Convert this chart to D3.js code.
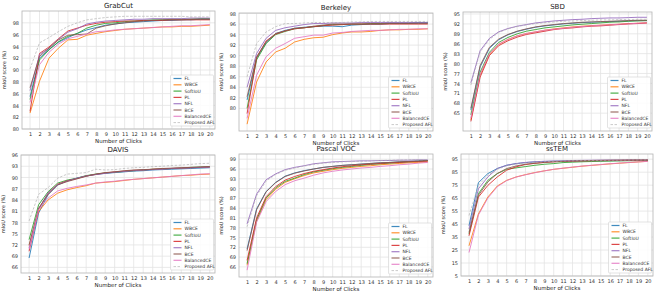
<!DOCTYPE html>
<html>
<head>
<meta charset="utf-8">
<title>mIoU vs clicks</title>
<style>
  body { margin: 0; background: #fff; }
  svg { display: block; font-family: "DejaVu Sans", sans-serif; }
  .grid line { stroke: #e3e3e3; stroke-width: 0.8; }
  .tick text { fill: #333; }
</style>
</head>
<body>
<svg width="664" height="291"></svg>
<script src="https://cdn.jsdelivr.net/npm/d3@7"></script>
<script>
// number of clicks on the x axis
var clicks = [1, 2, 3, 4, 5, 6, 7, 8, 9, 10, 11, 12, 13, 14, 15, 16, 17, 18, 19, 20];

var methods = ["FL", "WBCE", "SoftIoU", "PL", "NFL", "BCE", "BalancedCE", "Proposed AFL"];
var colors = ["#1f77b4", "#ff7f0e", "#2ca02c", "#d62728", "#9467bd", "#8c564b", "#e377c2", "#b0b0b0"];

// mIoU score (%) per method
var grabcut = {
  "FL":           [85.5, 92.0, 93.5, 94.7, 95.5, 96.2, 96.8, 97.2, 97.6, 97.8, 98.0, 98.1, 98.2, 98.3, 98.4, 98.4, 98.5, 98.5, 98.6, 98.6],
  "WBCE":         [82.7, 88.1, 92.0, 93.7, 95.1, 95.2, 95.9, 96.2, 96.5, 96.7, 96.9, 97.0, 97.1, 97.2, 97.3, 97.3, 97.4, 97.4, 97.5, 97.6],
  "SoftIoU":      [85.0, 91.7, 93.4, 94.8, 95.7, 96.2, 97.1, 97.6, 97.9, 98.0, 98.2, 98.3, 98.4, 98.5, 98.5, 98.6, 98.6, 98.6, 98.7, 98.7],
  "PL":           [83.0, 92.8, 93.9, 95.3, 96.6, 97.1, 97.6, 97.9, 98.1, 98.2, 98.3, 98.3, 98.4, 98.4, 98.4, 98.5, 98.5, 98.5, 98.5, 98.5],
  "NFL":          [86.5, 92.6, 93.7, 95.2, 96.4, 97.0, 97.8, 98.1, 98.3, 98.4, 98.5, 98.6, 98.6, 98.7, 98.7, 98.7, 98.7, 98.8, 98.8, 98.8],
  "BCE":          [87.0, 92.3, 93.7, 95.1, 95.9, 96.0, 96.1, 97.1, 97.5, 97.8, 98.0, 98.2, 98.3, 98.4, 98.5, 98.5, 98.5, 98.6, 98.6, 98.6],
  "BalancedCE":   [84.5, 90.9, 93.0, 94.4, 95.3, 95.7, 96.1, 96.5, 96.6, 96.8, 96.9, 97.0, 97.1, 97.2, 97.3, 97.4, 97.5, 97.5, 97.6, 97.7],
  "Proposed AFL": [90.2, 94.6, 95.5, 96.5, 97.4, 98.0, 98.5, 98.7, 98.9, 99.0, 99.1, 99.1, 99.1, 99.1, 99.1, 99.1, 99.1, 99.0, 99.0, 99.0]
};
var berkeley = {
  "FL":           [81.6, 89.5, 92.5, 94.2, 94.8, 95.2, 95.4, 95.5, 95.6, 95.6, 95.5, 95.8, 95.9, 96.0, 96.0, 96.1, 96.1, 96.1, 96.2, 96.2],
  "WBCE":         [77.0, 85.0, 88.8, 90.7, 91.4, 92.6, 93.1, 93.4, 93.5, 94.0, 94.3, 94.5, 94.5, 94.6, 94.8, 94.9, 94.9, 95.0, 95.0, 95.1],
  "SoftIoU":      [80.0, 89.2, 92.3, 94.0, 94.6, 95.1, 95.3, 95.5, 95.7, 95.9, 95.9, 96.0, 96.0, 96.1, 96.1, 96.2, 96.2, 96.2, 96.3, 96.3],
  "PL":           [79.0, 89.6, 92.8, 94.1, 94.7, 95.1, 95.3, 95.5, 95.7, 95.8, 95.9, 96.0, 96.0, 96.0, 96.0, 96.0, 96.0, 96.0, 96.0, 96.0],
  "NFL":          [84.0, 90.4, 93.3, 94.8, 95.3, 95.6, 95.9, 96.1, 96.1, 96.2, 96.2, 96.2, 96.3, 96.3, 96.3, 96.3, 96.3, 96.3, 96.3, 96.3],
  "BCE":          [82.2, 89.8, 92.6, 94.2, 94.7, 95.2, 95.3, 95.6, 95.8, 96.0, 96.0, 96.0, 96.0, 96.0, 96.0, 96.1, 96.1, 96.1, 96.1, 96.1],
  "BalancedCE":   [78.1, 86.3, 89.8, 91.4, 92.3, 93.3, 93.6, 93.9, 93.9, 94.3, 94.4, 94.6, 94.7, 94.8, 94.8, 94.9, 95.0, 95.0, 95.1, 95.1],
  "Proposed AFL": [86.0, 92.3, 94.5, 95.5, 96.1, 96.1, 96.2, 96.3, 96.3, 96.3, 96.3, 96.4, 96.4, 96.5, 96.5, 96.5, 96.5, 96.5, 96.5, 96.5]
};
var sbd = {
  "FL":           [66.0, 79.0, 84.6, 87.2, 88.7, 89.7, 90.4, 91.0, 91.4, 91.7, 92.0, 92.2, 92.4, 92.5, 92.6, 92.7, 92.8, 92.9, 93.0, 93.0],
  "WBCE":         [63.0, 76.5, 82.8, 85.8, 87.3, 88.4, 89.1, 89.6, 90.1, 90.5, 90.8, 91.1, 91.3, 91.5, 91.6, 91.8, 91.9, 92.1, 92.2, 92.3],
  "SoftIoU":      [64.5, 77.4, 83.4, 86.4, 87.9, 89.0, 89.8, 90.3, 90.8, 91.1, 91.4, 91.7, 91.9, 92.1, 92.3, 92.5, 92.6, 92.8, 92.9, 93.0],
  "PL":           [62.5, 75.9, 82.4, 85.4, 86.9, 88.0, 88.8, 89.3, 89.8, 90.3, 90.6, 90.8, 91.1, 91.3, 91.4, 91.6, 91.8, 92.0, 92.1, 92.3],
  "NFL":          [74.2, 83.9, 87.6, 89.6, 90.6, 91.3, 91.8, 92.3, 92.6, 92.9, 93.1, 93.3, 93.4, 93.6, 93.7, 93.8, 93.8, 93.9, 94.0, 94.0],
  "BCE":          [66.5, 79.4, 84.9, 87.4, 88.8, 89.8, 90.5, 91.1, 91.5, 91.8, 92.1, 92.3, 92.5, 92.6, 92.7, 92.8, 92.9, 93.0, 93.1, 93.1],
  "BalancedCE":   [63.5, 76.8, 83.0, 85.9, 87.3, 88.4, 89.1, 89.6, 90.1, 90.4, 90.7, 91.0, 91.2, 91.4, 91.6, 91.7, 91.9, 92.0, 92.2, 92.3],
  "Proposed AFL": [73.5, 83.5, 87.3, 89.4, 90.5, 91.2, 91.7, 92.1, 92.4, 92.6, 92.8, 92.9, 93.0, 93.1, 93.2, 93.2, 93.3, 93.3, 93.4, 93.4]
};
var davis = {
  "FL":           [68.5, 80.5, 85.4, 88.0, 89.1, 89.8, 90.4, 90.8, 91.1, 91.3, 91.5, 91.7, 91.8, 92.0, 92.1, 92.2, 92.3, 92.4, 92.5, 92.6],
  "WBCE":         [71.8, 80.9, 84.0, 85.8, 86.7, 87.3, 87.8, 88.5, 88.7, 88.9, 89.2, 89.5, 89.7, 89.9, 90.1, 90.3, 90.5, 90.6, 90.8, 90.9],
  "SoftIoU":      [73.4, 82.7, 86.2, 88.5, 89.3, 89.8, 90.5, 90.9, 91.2, 91.4, 91.6, 91.8, 92.0, 92.2, 92.3, 92.4, 92.5, 92.7, 92.8, 92.9],
  "PL":           [70.3, 81.4, 85.8, 88.2, 89.1, 89.7, 90.4, 90.8, 91.2, 91.5, 91.7, 91.9, 92.0, 92.2, 92.3, 92.4, 92.5, 92.6, 92.7, 92.8],
  "NFL":          [71.2, 81.6, 85.9, 88.1, 89.0, 89.8, 90.4, 90.8, 91.1, 91.4, 91.6, 91.8, 92.0, 92.1, 92.2, 92.4, 92.5, 92.6, 92.7, 92.8],
  "BCE":          [72.0, 81.8, 85.5, 88.0, 88.9, 89.6, 90.3, 90.9, 91.3, 91.5, 91.8, 92.0, 92.1, 92.2, 92.4, 92.5, 92.6, 92.7, 92.8, 92.9],
  "BalancedCE":   [70.8, 81.4, 84.5, 86.4, 87.1, 87.6, 88.0, 88.5, 88.8, 89.0, 89.3, 89.5, 89.7, 89.9, 90.1, 90.3, 90.5, 90.7, 90.9, 91.0],
  "Proposed AFL": [78.4, 85.5, 87.3, 89.8, 90.9, 91.1, 91.3, 92.2, 92.0, 92.1, 92.4, 92.6, 92.7, 92.9, 93.0, 93.2, 93.3, 93.5, 93.7, 93.8]
};
var voc = {
  "FL":           [71.5, 83.8, 89.1, 91.9, 93.8, 94.8, 95.5, 96.0, 96.5, 96.8, 97.1, 97.3, 97.5, 97.7, 97.9, 98.0, 98.2, 98.3, 98.5, 98.6],
  "WBCE":         [66.5, 80.0, 86.6, 89.8, 91.9, 93.0, 94.0, 94.8, 95.3, 95.8, 96.2, 96.5, 96.8, 97.0, 97.3, 97.5, 97.7, 97.9, 98.0, 98.2],
  "SoftIoU":      [67.0, 80.4, 87.1, 90.2, 92.2, 93.2, 94.3, 95.1, 95.6, 96.1, 96.5, 96.8, 97.1, 97.4, 97.6, 97.8, 98.0, 98.2, 98.4, 98.6],
  "PL":           [68.0, 81.0, 87.5, 90.6, 92.6, 93.7, 94.6, 95.3, 95.8, 96.3, 96.7, 97.0, 97.3, 97.5, 97.7, 97.9, 98.0, 98.2, 98.3, 98.4],
  "NFL":          [79.2, 88.3, 92.7, 94.5, 95.8, 96.5, 97.0, 97.6, 97.9, 98.2, 98.3, 98.4, 98.5, 98.5, 98.6, 98.6, 98.7, 98.7, 98.8, 98.8],
  "BCE":          [71.0, 83.5, 89.0, 91.8, 93.7, 94.7, 95.4, 96.0, 96.5, 96.8, 97.1, 97.3, 97.5, 97.7, 97.9, 98.0, 98.2, 98.3, 98.4, 98.6],
  "BalancedCE":   [65.0, 79.7, 86.0, 89.1, 91.2, 92.4, 93.2, 94.1, 94.8, 95.3, 95.7, 96.0, 96.3, 96.5, 96.8, 97.0, 97.3, 97.5, 97.8, 98.0],
  "Proposed AFL": [78.3, 87.8, 92.3, 94.3, 95.6, 96.3, 96.9, 97.4, 97.8, 98.0, 98.2, 98.3, 98.4, 98.5, 98.6, 98.7, 98.7, 98.8, 98.8, 98.9]
};
var sstem = {
  "FL":           [43.8, 76.9, 83.9, 87.8, 90.3, 91.6, 92.4, 92.9, 93.2, 93.4, 93.5, 93.6, 93.7, 93.8, 93.8, 93.9, 93.9, 94.0, 94.0, 94.0],
  "WBCE":         [28.3, 52.8, 65.8, 74.3, 78.7, 81.3, 83.1, 84.7, 86.0, 87.2, 88.0, 88.8, 89.6, 90.2, 90.8, 91.4, 91.9, 92.4, 92.9, 93.4],
  "SoftIoU":      [37.3, 68.4, 78.7, 83.9, 87.2, 88.3, 89.3, 90.3, 91.1, 91.6, 92.4, 92.7, 93.0, 93.2, 93.4, 93.5, 93.7, 93.8, 93.9, 94.0],
  "PL":           [36.0, 65.8, 74.8, 81.3, 86.5, 89.1, 90.9, 91.8, 92.5, 93.0, 93.3, 93.5, 93.7, 93.8, 93.9, 94.0, 94.1, 94.2, 94.2, 94.3],
  "NFL":          [41.2, 72.2, 81.3, 87.8, 90.3, 91.6, 92.5, 93.0, 93.4, 93.6, 93.8, 94.0, 94.1, 94.2, 94.3, 94.4, 94.4, 94.5, 94.5, 94.5],
  "BCE":          [38.6, 67.1, 77.4, 83.9, 87.8, 89.8, 91.1, 91.9, 92.5, 93.0, 93.3, 93.6, 93.8, 94.0, 94.1, 94.2, 94.3, 94.4, 94.5, 94.5],
  "BalancedCE":   [23.1, 52.0, 65.0, 73.8, 78.5, 81.2, 83.0, 84.6, 86.0, 87.2, 88.1, 88.9, 89.7, 90.3, 90.9, 91.5, 92.0, 92.5, 92.9, 93.3],
  "Proposed AFL": [51.6, 74.8, 82.6, 87.2, 89.8, 91.2, 92.1, 92.7, 93.1, 93.4, 93.6, 93.8, 93.9, 94.0, 94.1, 94.2, 94.3, 94.4, 94.4, 94.5]
};

// y tick labels per panel
var ticksGrabcut  = [80, 82, 84, 86, 88, 90, 92, 94, 96, 98];
var ticksBerkeley = [80, 82, 84, 86, 88, 90, 92, 94, 96, 98];
var ticksSbd      = [65, 68, 71, 74, 77, 80, 83, 86, 89, 92, 95];
var ticksDavis    = [66, 69, 72, 75, 78, 81, 84, 87, 90, 93, 96];
var ticksVoc      = [66, 69, 72, 75, 78, 81, 84, 87, 90, 93, 96, 99];
var ticksSstem    = [5, 15, 25, 35, 45, 55, 65, 75, 85, 95];

var panels = [
  {title: "GrabCut",    data: grabcut,  ticks: ticksGrabcut,  ylim: [80, 100],    box: [22, 11, 215, 129]},
  {title: "Berkeley",   data: berkeley, ticks: ticksBerkeley, ylim: [75.7, 98.1], box: [239, 13, 433, 131]},
  {title: "SBD",        data: sbd,      ticks: ticksSbd,      ylim: [59.6, 95.6], box: [463, 12, 652, 131]},
  {title: "DAVIS",      data: davis,    ticks: ticksDavis,    ylim: [64.5, 96],   box: [21, 155, 215, 273]},
  {title: "Pascal VOC", data: voc,      ticks: ticksVoc,      ylim: [62.9, 100.6], box: [239, 154, 433, 277]},
  {title: "ssTEM",      data: sstem,    ticks: ticksSstem,    ylim: [5, 99],      box: [461, 154, 653, 276]}
];

var svg = d3.select("svg");

panels.forEach(function(p) {
  var L = p.box[0], T = p.box[1], R = p.box[2], B = p.box[3];
  var x = d3.scaleLinear().domain([0.15, 20.55]).range([L, R]);
  var y = d3.scaleLinear().domain(p.ylim).range([B, T]);
  var g = svg.append("g");

  // grid
  g.append("g").attr("class", "grid")
    .selectAll("line.v").data(clicks).enter().append("line")
    .attr("x1", function(d) { return x(d); }).attr("x2", function(d) { return x(d); })
    .attr("y1", T).attr("y2", B);
  g.append("g").attr("class", "grid")
    .selectAll("line.h").data(p.ticks).enter().append("line")
    .attr("x1", L).attr("x2", R)
    .attr("y1", function(d) { return y(d); }).attr("y2", function(d) { return y(d); });

  // axes (labels only, no tick marks)
  var xa = g.append("g").attr("transform", "translate(0," + B + ")")
    .call(d3.axisBottom(x).tickValues(clicks).tickSize(0).tickPadding(3));
  var ya = g.append("g").attr("transform", "translate(" + L + ",0)")
    .call(d3.axisLeft(y).tickValues(p.ticks).tickSize(0).tickPadding(3));
  [xa, ya].forEach(function(a) {
    a.select(".domain").remove();
    a.selectAll("text").attr("font-size", 5).attr("font-family", "DejaVu Sans");
  });

  // lines
  var line = d3.line()
    .x(function(d, i) { return x(clicks[i]); })
    .y(function(d) { return y(d); });
  var clip = "clip" + p.title.replace(/\s/g, "");
  g.append("clipPath").attr("id", clip).append("rect")
    .attr("x", L).attr("y", T).attr("width", R - L).attr("height", B - T);
  g.append("g").attr("clip-path", "url(#" + clip + ")")
    .selectAll("path").data(methods).enter().append("path")
    .attr("d", function(m) { return line(p.data[m]); })
    .attr("fill", "none")
    .attr("stroke", function(m, i) { return colors[i]; })
    .attr("stroke-opacity", 0.85)
    .attr("stroke-width", function(m, i) { return i === 7 ? 0.8 : 1; })
    .attr("stroke-dasharray", function(m, i) { return i === 7 ? "2.5,1.5" : null; });

  // frame
  g.append("rect").attr("x", L).attr("y", T).attr("width", R - L).attr("height", B - T)
    .attr("fill", "none").attr("stroke", "#b5b5b5").attr("stroke-width", 0.8);

  // title and axis labels
  g.append("text").attr("x", (L + R) / 2).attr("y", T - 3.5)
    .attr("text-anchor", "middle").attr("font-size", 7).attr("fill", "#222").text(p.title);
  g.append("text").attr("x", (L + R) / 2).attr("y", B + 13.5)
    .attr("text-anchor", "middle").attr("font-size", 5.5).attr("fill", "#222").text("Number of Clicks");
  g.append("text").attr("transform", "translate(" + (L - 16) + "," + ((T + B) / 2) + ") rotate(-90)")
    .attr("text-anchor", "middle").attr("font-size", 5).attr("fill", "#222").text("mIoU score (%)");

  // legend
  var lw = 43, lh = 51;
  var lx = R - lw - 1.5, ly = B - lh - 3;
  var leg = g.append("g").attr("transform", "translate(" + lx + "," + ly + ")");
  leg.append("rect").attr("width", lw).attr("height", lh).attr("rx", 1)
    .attr("fill", "#fff").attr("fill-opacity", 0.85).attr("stroke", "#d0d0d0").attr("stroke-width", 0.6);
  var item = leg.selectAll("g.item").data(methods).enter().append("g")
    .attr("transform", function(m, i) { return "translate(0," + (3.5 + i * 6.3) + ")"; });
  item.append("line").attr("x1", 3).attr("x2", 11).attr("y1", 0).attr("y2", 0)
    .attr("stroke", function(m, i) { return colors[i]; })
    .attr("stroke-opacity", 0.85)
    .attr("stroke-width", function(m, i) { return i === 7 ? 0.8 : 1.2; })
    .attr("stroke-dasharray", function(m, i) { return i === 7 ? "2.5,1.5" : null; });
  item.append("text").attr("x", 14).attr("y", 1.6).attr("font-size", 4.5).attr("fill", "#333")
    .text(function(m) { return m; });
});
</script>
</body>
</html>
